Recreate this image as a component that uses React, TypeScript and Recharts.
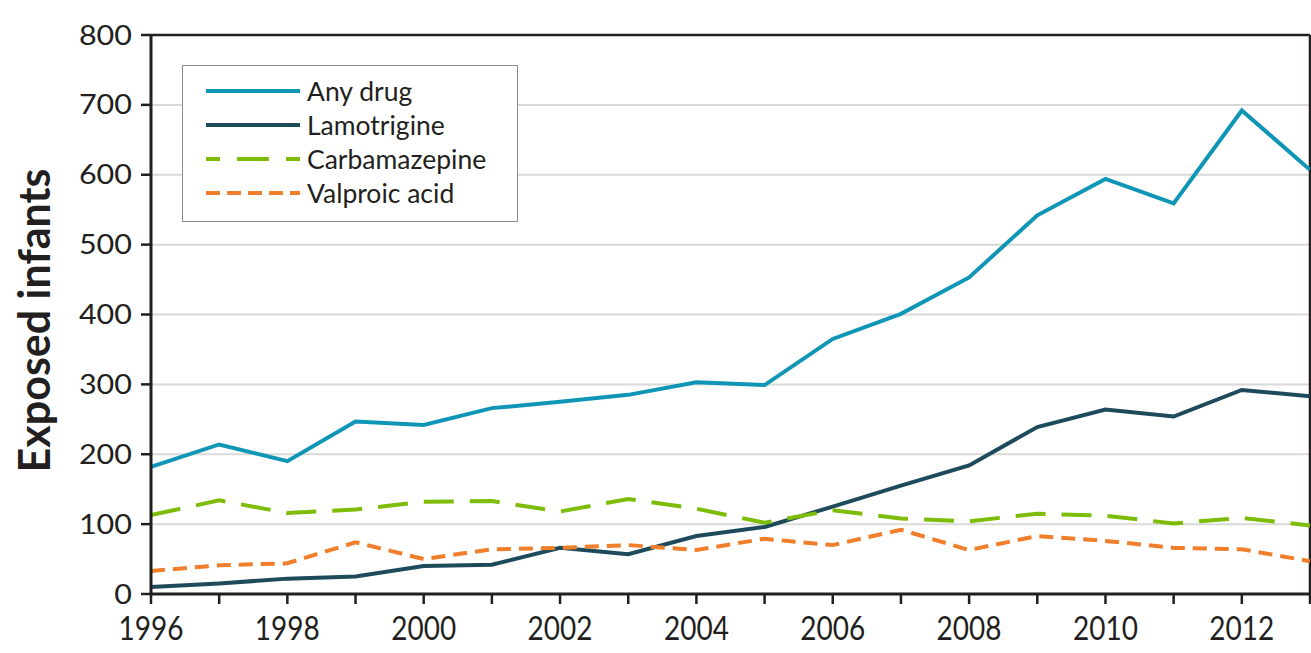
import React from 'react';
import { LineChart, Line, XAxis, YAxis, CartesianGrid, ReferenceLine, Label } from 'recharts';

const years = [1996, 1997, 1998, 1999, 2000, 2001, 2002, 2003, 2004, 2005, 2006, 2007, 2008, 2009, 2010, 2011, 2012, 2013];
const anyDrug = [182, 214, 190, 247, 242, 266, 275, 285, 303, 299, 365, 401, 453, 542, 594, 559, 692, 607];
const lamotrigine = [10, 15, 22, 25, 40, 42, 66, 57, 83, 96, 125, 155, 184, 239, 264, 254, 292, 283];
const carbamazepine = [113, 134, 116, 121, 132, 133, 118, 136, 122, 102, 120, 108, 104, 115, 112, 101, 109, 98];
const valproicAcid = [33, 41, 44, 74, 50, 64, 66, 70, 63, 79, 70, 92, 63, 83, 76, 66, 64, 47];
const yTicks = [0, 100, 200, 300, 400, 500, 600, 700, 800];

const seriesInfo = [
  { key: 'any', name: 'Any drug', color: '#0f96b6', dash: undefined as string | undefined, legendDash: undefined as string | undefined },
  { key: 'lam', name: 'Lamotrigine', color: '#1d4b5c', dash: undefined as string | undefined, legendDash: undefined as string | undefined },
  { key: 'carb', name: 'Carbamazepine', color: '#7dbd08', dash: '30 16', legendDash: '14 17 32 17 20' },
  { key: 'val', name: 'Valproic acid', color: '#f07e2b', dash: '14 8', legendDash: '14 7' },
];

const data = years.map((y, i) => ({
  year: y,
  any: anyDrug[i],
  lam: lamotrigine[i],
  carb: carbamazepine[i],
  val: valproicAcid[i],
}));

const FONT = 'Lato, "Open Sans", sans-serif';
const INK = '#231f20';

const LegendBox = () => (
  <div
    style={{
      position: 'absolute',
      left: 182,
      top: 65,
      width: 336,
      height: 157,
      boxSizing: 'border-box',
      border: '1.5px solid #8c8c8c',
      background: '#fff',
      fontFamily: FONT,
    }}
  >
    {seriesInfo.map((s, i) => (
      <div key={s.key} style={{ position: 'absolute', left: 22, top: 10 + i * 34, height: 30, display: 'flex', alignItems: 'center' }}>
        <svg width={96} height={10} style={{ display: 'block' }}>
          <line x1={1} y1={5} x2={95} y2={5} stroke={s.color} strokeWidth={4} strokeDasharray={s.legendDash} />
        </svg>
        <span style={{ marginLeft: 6, fontSize: 26.5, color: INK, lineHeight: '30px', whiteSpace: 'nowrap' }}>{s.name}</span>
      </div>
    ))}
  </div>
);

const YTitle = (props: any) => {
  const vb = props.viewBox || { x: 0, y: 35, width: 151, height: 559 };
  const cx = 33;
  const cy = vb.y + vb.height / 2 + 6;
  return (
    <text
      x={cx}
      y={cy}
      transform={`rotate(-90, ${cx}, ${cy})`}
      textAnchor="middle"
      dominantBaseline="central"
      fill={INK}
      fontSize={43}
      fontWeight={700}
      fontFamily={FONT}
    >
      Exposed infants
    </text>
  );
};

const XTick = (props: any) => {
  const { x, y, payload } = props;
  const v = payload.value as number;
  if (v % 2 !== 0) return <g />;
  const s = String(v);
  return (
    <text
      x={x}
      y={y + 36}
      textAnchor="middle"
      fill={INK}
      fontSize={32}
      fontFamily={FONT}
      textLength={65}
      lengthAdjust="spacingAndGlyphs"
    >
      {s}
    </text>
  );
};

const YTick = (props: any) => {
  const { x, y, payload } = props;
  const s = String(payload.value);
  const w = 17.7 * s.length;
  return (
    <text
      x={x - 9 - w / 2}
      y={y + 9.5}
      textAnchor="middle"
      fill={INK}
      fontSize={27}
      fontFamily={FONT}
      textLength={w}
      lengthAdjust="spacingAndGlyphs"
    >
      {s}
    </text>
  );
};

export default function App() {
  return (
    <div style={{ position: 'absolute', left: 0, top: 0, width: 1311, height: 653, background: '#fff' }}>
      <LineChart width={1311} height={653} data={data} margin={{ top: 35, right: 1, bottom: 0, left: 0 }}>
        <CartesianGrid vertical={false} stroke="#d9d9d9" strokeWidth={2} />
        <XAxis
          dataKey="year"
          type="number"
          domain={[1996, 2013]}
          ticks={years}
          interval={0}
          height={59}
          tickSize={10}
          tickMargin={0}
          axisLine={{ stroke: INK, strokeWidth: 3 }}
          tickLine={{ stroke: INK, strokeWidth: 2.5 }}
          tick={<XTick />}
          allowDataOverflow
        />
        <YAxis
          type="number"
          domain={[0, 800]}
          ticks={yTicks}
          interval={0}
          width={151}
          tickSize={10}
          tickMargin={0}
          axisLine={{ stroke: INK, strokeWidth: 3 }}
          tickLine={{ stroke: INK, strokeWidth: 2.5 }}
          tick={<YTick />}
        >
          <Label content={<YTitle />} />
        </YAxis>
        <ReferenceLine y={800} stroke={INK} strokeWidth={2.5} />
        <ReferenceLine x={2013} stroke={INK} strokeWidth={2.5} />
        {seriesInfo.map((s) => (
          <Line
            key={s.key}
            type="linear"
            dataKey={s.key}
            name={s.name}
            stroke={s.color}
            strokeWidth={4}
            strokeDasharray={s.dash}
            dot={false}
            activeDot={false}
            isAnimationActive={false}
          />
        ))}
      </LineChart>
      <LegendBox />
    </div>
  );
}
